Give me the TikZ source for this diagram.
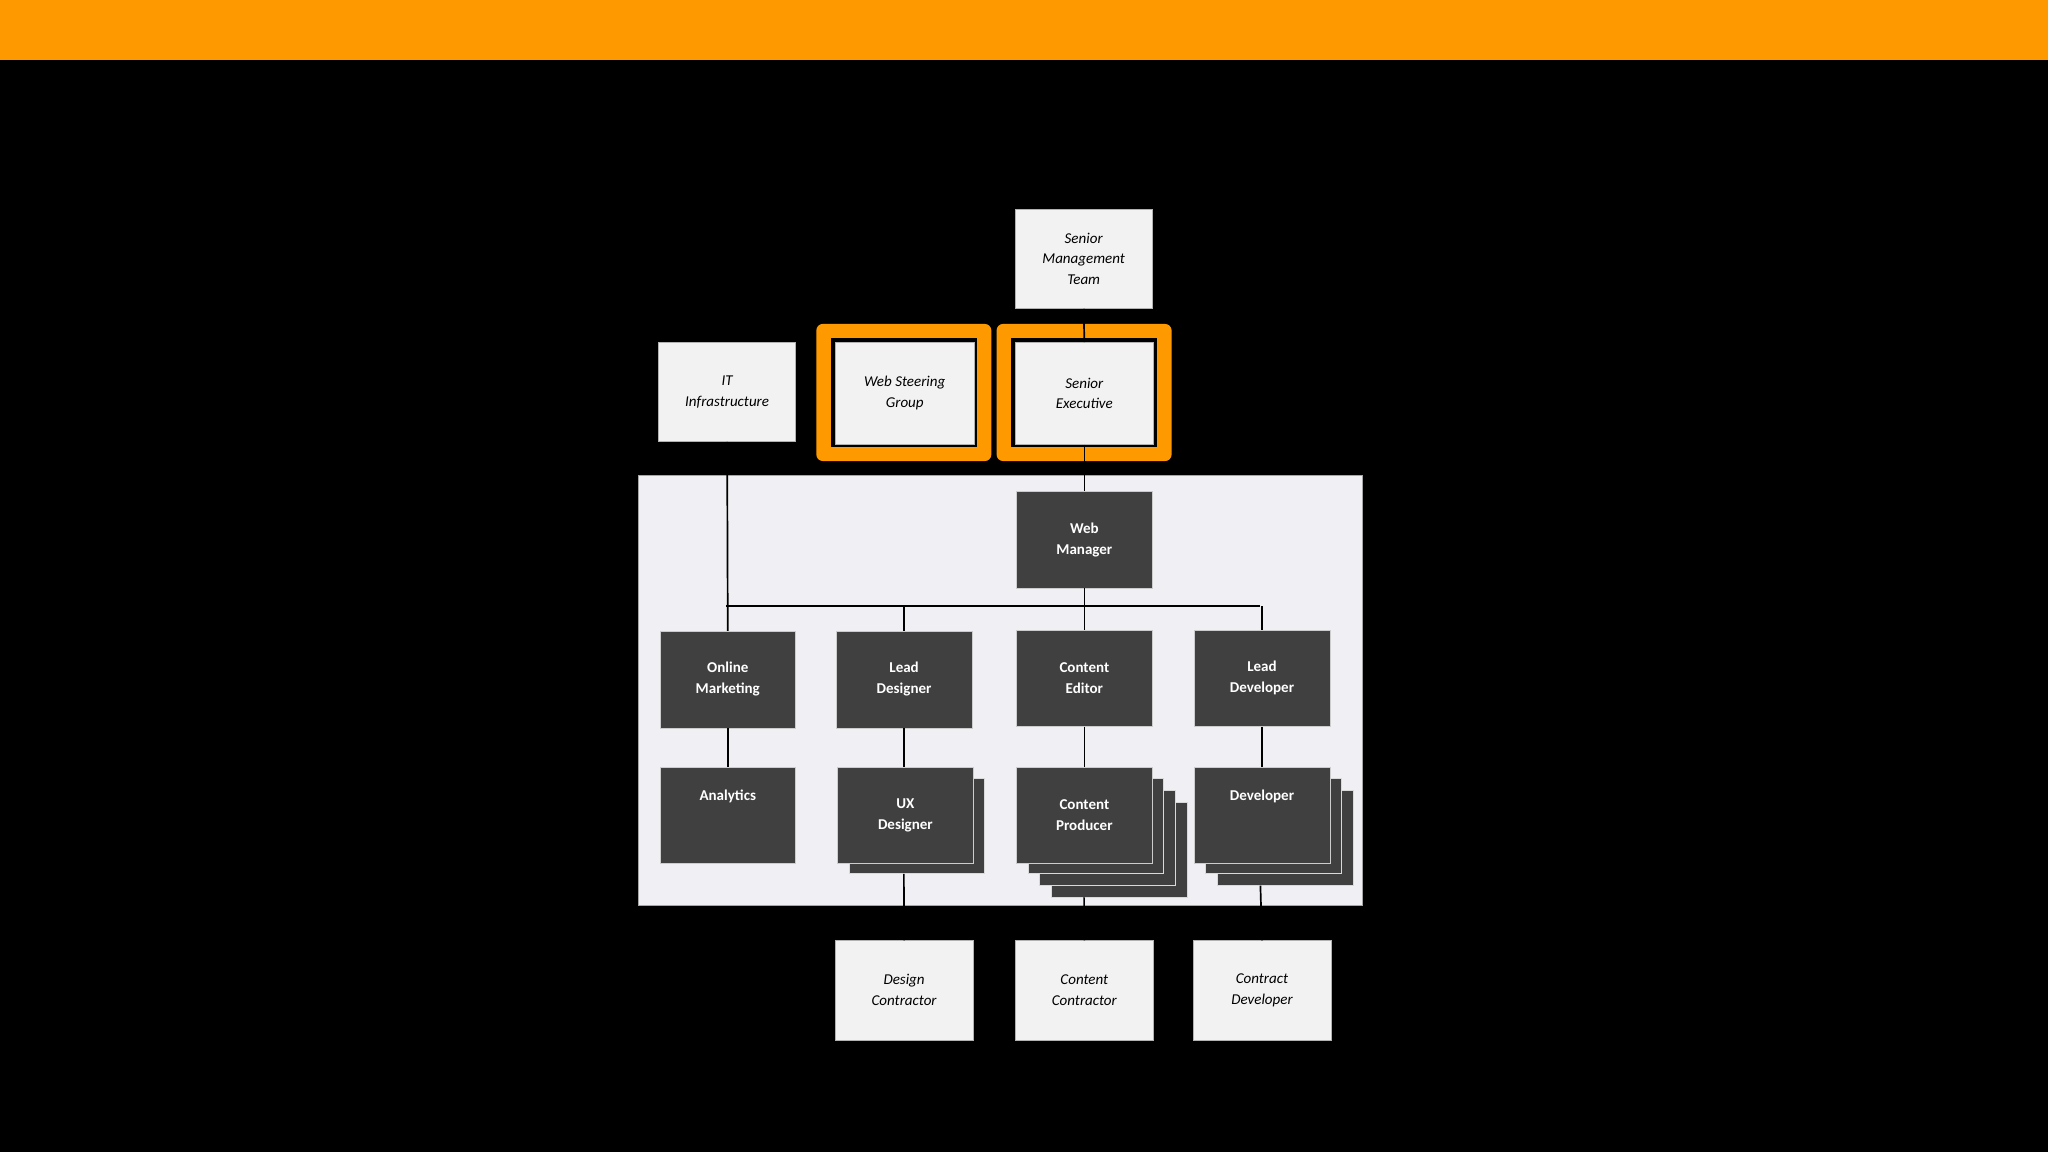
\documentclass[tikz,border=0pt]{standalone}
\usepackage{fontspec}
\setmainfont{Carlito}
\definecolor{orng}{RGB}{255,153,0}
\definecolor{lgr}{RGB}{242,242,242}
\definecolor{pnl}{RGB}{240,239,243}
\definecolor{dgr}{RGB}{64,64,64}
\begin{document}
\begin{tikzpicture}[x=1pt,y=-1pt,
  lbox/.style={draw=gray!60,fill=lgr,minimum width=105pt,minimum height=76pt,align=center,font=\fontsize{11.5}{16}\selectfont\itshape,inner sep=0pt,anchor=north west},
  dbox/.style={draw=white!80!black,line width=0.4pt,fill=dgr,text=white,minimum width=104pt,minimum height=74pt,align=center,font=\fontsize{11.5}{16}\selectfont\bfseries,inner sep=0pt,anchor=north west},
  shad/.style={draw=white!85!black,fill=dgr,line width=0.6pt},
  obox/.style={fill=orng,rounded corners=5pt},
  conn/.style={line width=1.3pt,black}]
\fill[black] (0,0) rectangle (1568,882);
\useasboundingbox (0,0) rectangle (1568,882);
\fill[orng] (0,0) rectangle (1568,46);
% orange frames
\fill[obox] (625,248) rectangle (759,353);
\fill[obox] (763,248) rectangle (897,353);
\fill[black] (636,259) rectangle (748,342);
\fill[black] (774,259) rectangle (886,342);
% panel
\draw[gray!70,fill=pnl] (489,364) rectangle (1043,693);
% light boxes
\node[lbox] (smt) at (777,160) {Senior\\Management\\Team};
\node[lbox] (it) at (504,262) {IT\\Infrastructure};
\node[lbox,minimum width=107pt,minimum height=78pt] (wsg) at (639,262) {Web Steering\\Group};
\node[lbox,minimum width=106pt,minimum height=78pt] (se) at (777,262) {Senior\\Executive};
\node[lbox,minimum width=106pt] (dc) at (639,720) {Design\\Contractor};
\node[lbox,minimum width=106pt] (cc) at (777,720) {Content\\Contractor};
\node[lbox,minimum width=106pt] (cd) at (913,720) {Contract\\Developer};
% shadows
\draw[shad] (650,596) rectangle +(104,73);
\draw[shad] (805,614) rectangle +(104,73);
\draw[shad] (796,605) rectangle +(104,73);
\draw[shad] (787,596) rectangle +(104,73);
\draw[shad] (932,605) rectangle +(104,73);
\draw[shad] (923,596) rectangle +(104,73);
% dark boxes
\node[dbox] (wm) at (778,376) {Web\\Manager};
\node[dbox] (om) at (505,483) {Online\\Marketing};
\node[dbox] (ld) at (640,483) {Lead\\Designer};
\node[dbox] (ce) at (778,482) {Content\\Editor};
\node[dbox] (ldev) at (914,482) {Lead\\Developer};
\node[dbox] (an) at (505,587) {Analytics\\[14pt]};
\node[dbox] (ux) at (641,587) {UX\\Designer};
\node[dbox] (cp) at (778,587) {Content\\Producer};
\node[dbox] (dev) at (914,587) {Developer\\[14pt]};
% connectors
\coordinate (bl) at (556,464);
\coordinate (br) at (965,464);
\draw[conn] (smt.south) -- (se.north);
\draw[conn] (se.south) -- (wm.north);
\draw[conn] (it.south) -- (om.north);
\draw[conn] (bl) -- (br);
\draw[conn] (wm.south) -- (ce.north);
\draw[conn] (ld.north) -- (ld.north |- bl);
\draw[conn] (ldev.north) -- (ldev.north |- br);
\draw[conn] (om.south) -- (an.north);
\draw[conn] (ld.south) -- (ld.south |- ux.north);
\draw[conn] (ce.south) -- (cp.north);
\draw[conn] (ldev.south) -- (dev.north);
\coordinate (uxb) at (692,669);
\coordinate (cpb) at (830,687);
\coordinate (devb) at (965,678);
\draw[conn] (uxb) -- (dc.north);
\draw[conn] (cpb) -- (cc.north);
\draw[conn] (devb) -- (cd.north);
\end{tikzpicture}
\end{document}
